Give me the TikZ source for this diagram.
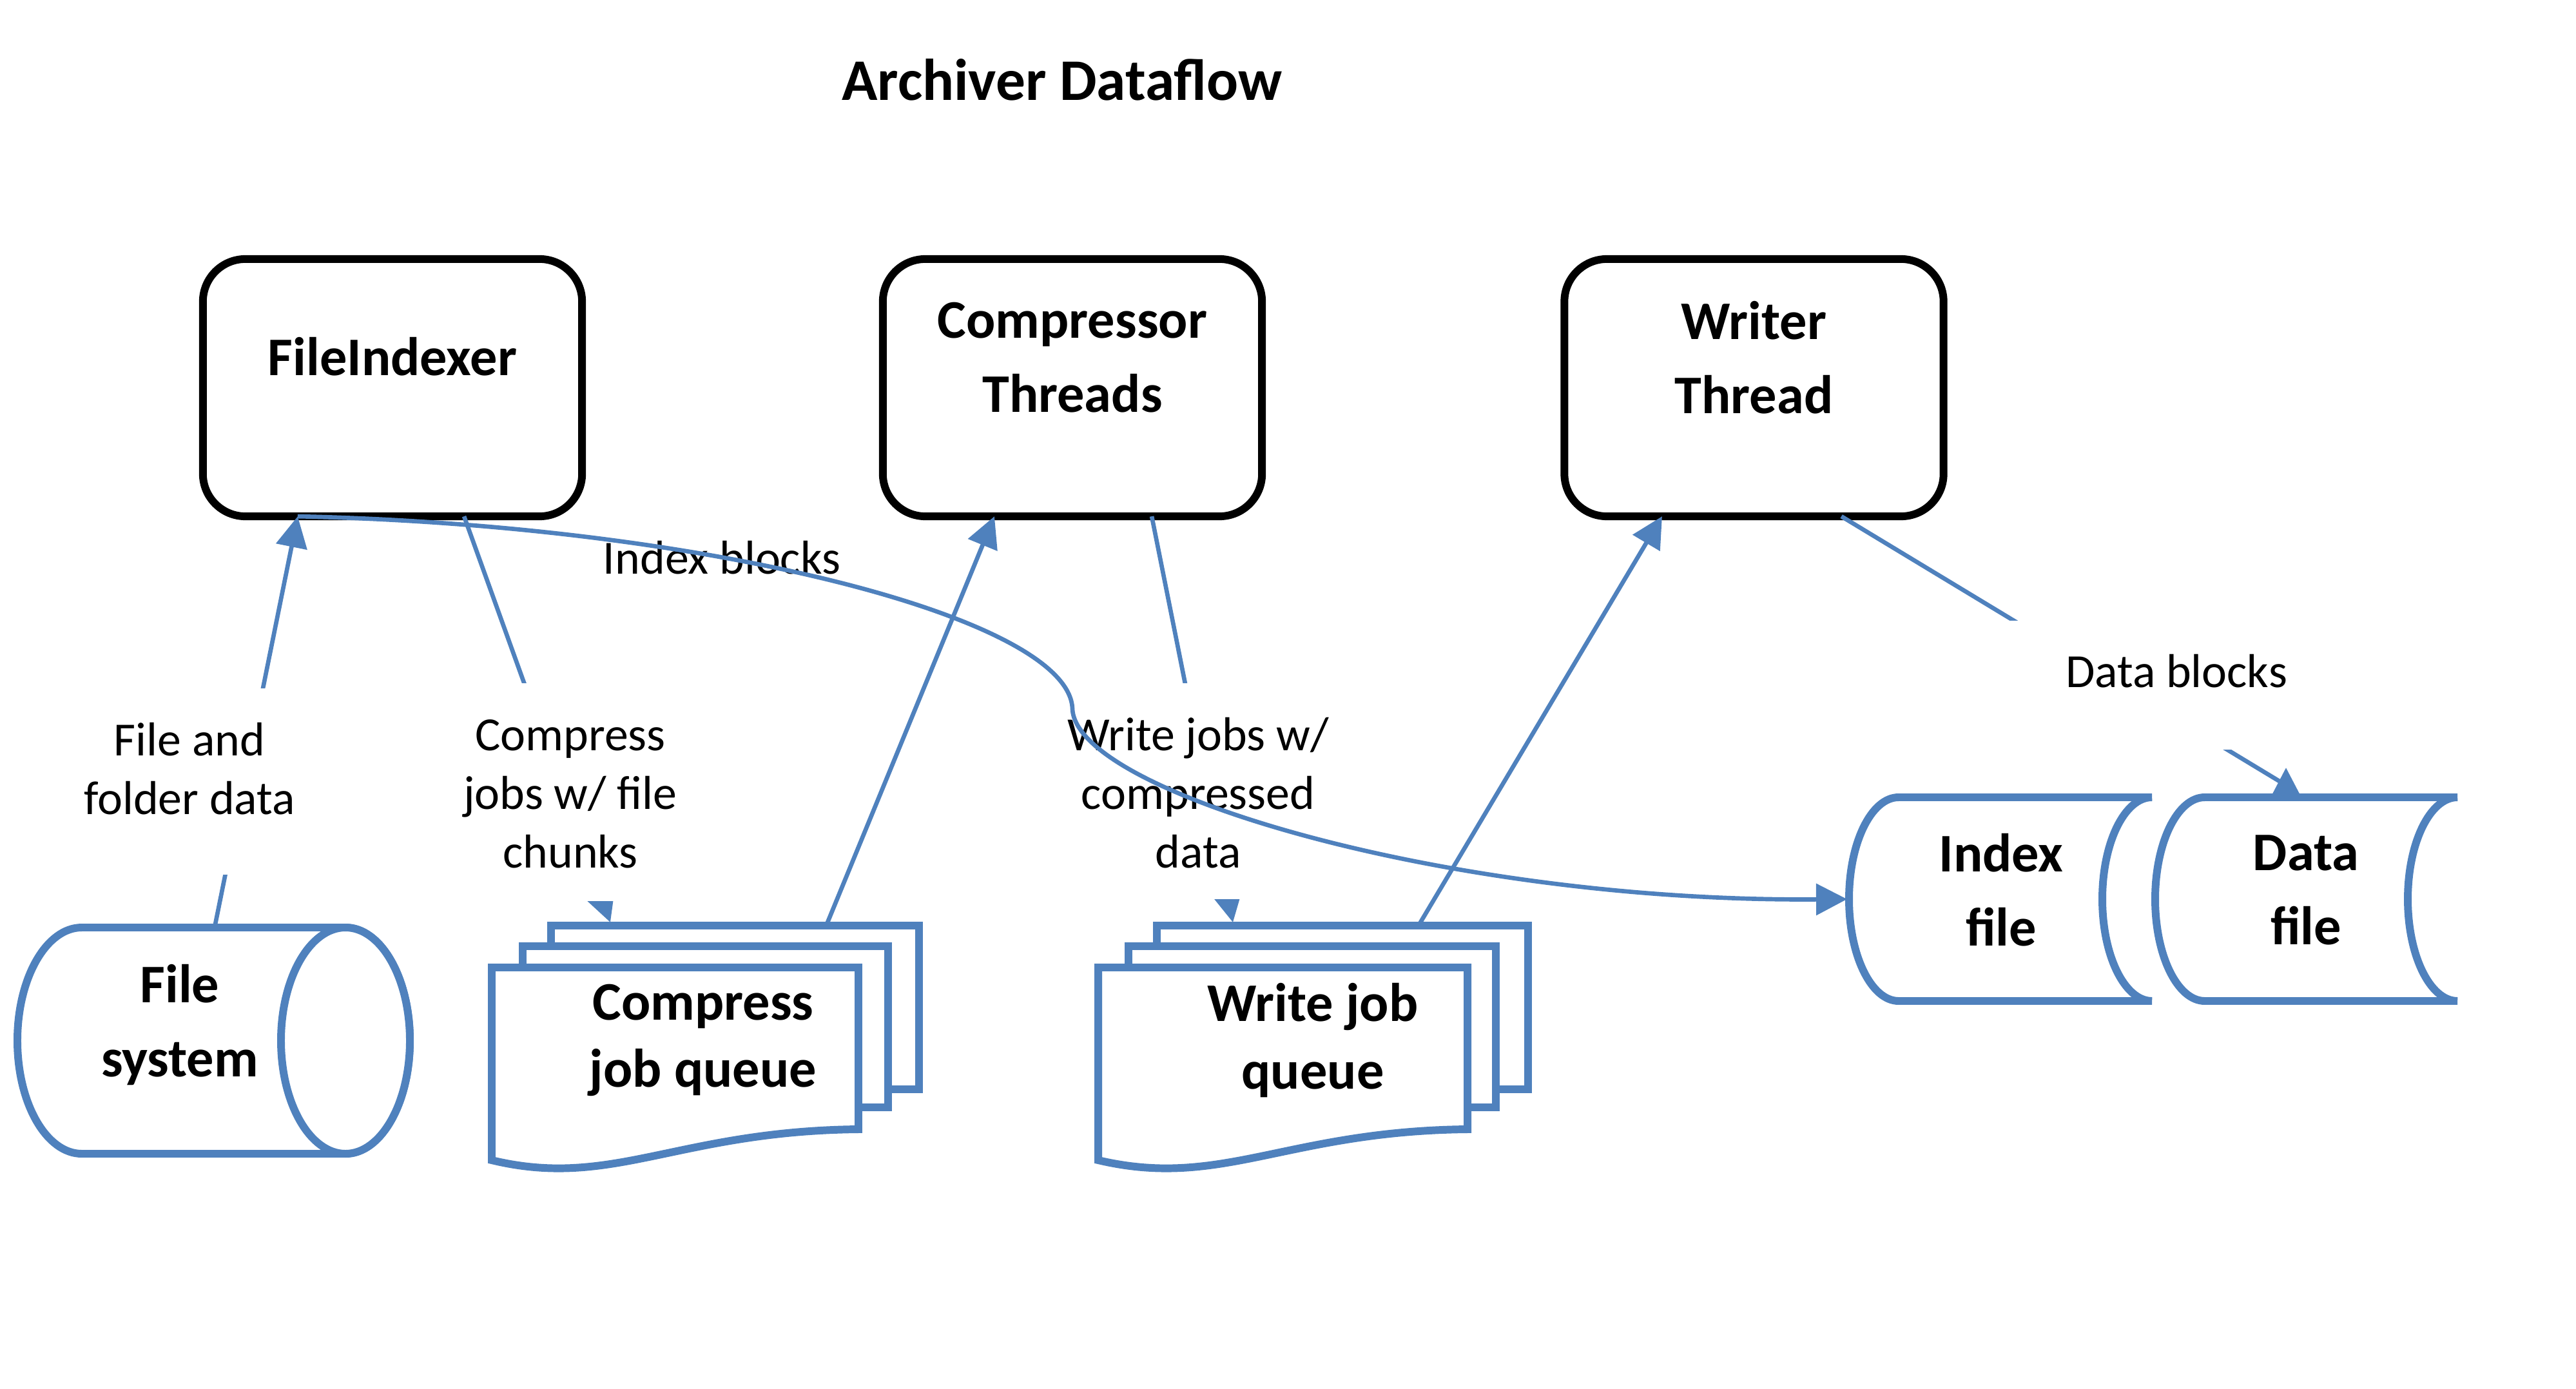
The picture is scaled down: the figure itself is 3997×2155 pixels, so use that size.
\documentclass[tikz,border=0pt]{standalone}
\usepackage{fontspec}
\setmainfont{Carlito}
\usetikzlibrary{arrows.meta}
\definecolor{flowblue}{HTML}{4F81BD}

\begin{document}
\begin{tikzpicture}[x=0.01cm,y=-0.01cm,
    proc/.style={draw=black,line width=3.4pt,rounded corners=0.66cm,minimum width=5.88cm,minimum height=3.99cm,inner sep=0pt,outer sep=0pt},
    boxtext/.style={font=\fontsize{24}{32.7}\selectfont\bfseries,align=center,inner sep=0pt},
    queuetext/.style={font=\fontsize{24}{29.6}\selectfont\bfseries,align=center,inner sep=0pt},
    store/.style={draw=flowblue,line width=3.4pt,fill=white},
    flow/.style={draw=flowblue,line width=1.9pt,line join=round,-{Triangle[length=4.8mm,width=4.8mm]}},
    lbl/.style={font=\fontsize{21}{25.9}\selectfont,align=center,inner sep=0pt}]
    \useasboundingbox (0,0) rectangle (3997,2155);

    \node[font=\fontsize{26}{30}\selectfont\bfseries] (title) at (1648,124) {Archiver Dataflow};

    % threads
    \node[proc] (fi) at (609,601.5) {};
    \node[proc] (ct) at (1664,601.5) {};
    \node[proc] (wt) at (2721.5,601.5) {};
    \node[boxtext] (fitxt) at (609,553) {FileIndexer};
    \node[boxtext] (cttxt) at (1664,555) {Compressor\\Threads};
    \node[boxtext] (wttxt) at (2721.5,555) {Writer\\Thread};

    % file system
    \draw[store] (127,1439) -- (536,1439) arc[start angle=-90,end angle=90,x radius=100,y radius=175.5] -- (127,1790) arc[start angle=90,end angle=270,x radius=100,y radius=175.5] -- cycle;
    \draw[store] (536,1614.5) ellipse[x radius=100,y radius=175.5];
    \node[boxtext] (fs) at (279,1590) {File\\system};

    % output files
    \draw[store] (2946,1237) -- (3339,1237) arc[start angle=-90,end angle=-270,x radius=77,y radius=158] -- (2946,1553) arc[start angle=90,end angle=270,x radius=77,y radius=158] -- cycle;
    \node[boxtext] (idx) at (3105,1381) {Index\\file};
    \draw[store] (3421,1237) -- (3813,1237) arc[start angle=-90,end angle=-270,x radius=77,y radius=158] -- (3421,1553) arc[start angle=90,end angle=270,x radius=77,y radius=158] -- cycle;
    \node[boxtext] (dat) at (3578,1381) {Data\\file};

    % job queues
    \draw[store] (855,1436) rectangle (1426,1690);
    \draw[store] (811,1468) rectangle (1378,1718);
    \draw[store] (763,1501) -- (1332,1501) -- (1332,1752) .. controls (1050,1755) and (950,1845) .. (763,1800) -- cycle;
    \node[queuetext] (cq) at (1091,1614) {Compress\\job queue};
    \draw[store] (1795,1436) rectangle (2371,1690);
    \draw[store] (1751,1468) rectangle (2321,1718);
    \draw[store] (1704,1501) -- (2277,1501) -- (2277,1752) .. controls (1995,1755) and (1895,1845) .. (1704,1800) -- cycle;
    \node[queuetext] (wq) at (2037,1614) {Write job\\queue};

    \coordinate (fs out) at (333,1439);
    \coordinate (cq in) at (947,1431);
    \coordinate (cq out) at (1282,1436);
    \coordinate (wq in) at (1913,1431);
    \coordinate (wq out) at (2201,1436);
    \coordinate (idx in) at (2866,1395);
    \coordinate (dat in) at (3547,1191);

    \draw[flow] (fs out) -- ([xshift=-1.47cm]fi.south);
    \draw[flow] ([xshift=1.11cm]fi.south) -- (cq in);
    \draw[flow] (cq out) -- ([xshift=-1.21cm]ct.south);
    \draw[flow] ([xshift=1.23cm]ct.south) -- (wq in);
    \draw[flow] (wq out) -- ([xshift=-1.425cm]wt.south);
    \draw[flow] ([xshift=1.355cm]wt.south) -- (3540,1214) -- (3547,1238) -- (dat in);

    % labels
    \fill[white] (120,1068) rectangle (470,1357);
    \fill[white] (700,1060) rectangle (1070,1398);
    \fill[white] (1640,1060) rectangle (2080,1395);
    \fill[white] (3110,963) rectangle (3560,1163);
    \node[lbl] (fsl) at (294,1193) {File and\\folder data};
    \node[lbl] (cql) at (885,1232) {Compress\\jobs w/ file\\chunks};
    \node[lbl] (wql) at (1859,1230) {Write jobs w/\\compressed\\data};
    \node[lbl] (dbl) at (3377,1041) {Data blocks};
    \node[lbl] (ibl) at (1120,865) {Index blocks};

    \draw[flow] ([xshift=-1.47cm]fi.south) .. controls (1100,815) and (1660,960) .. (1664,1100) .. controls (1670,1230) and (2250,1400) .. (idx in);
\end{tikzpicture}
\end{document}
